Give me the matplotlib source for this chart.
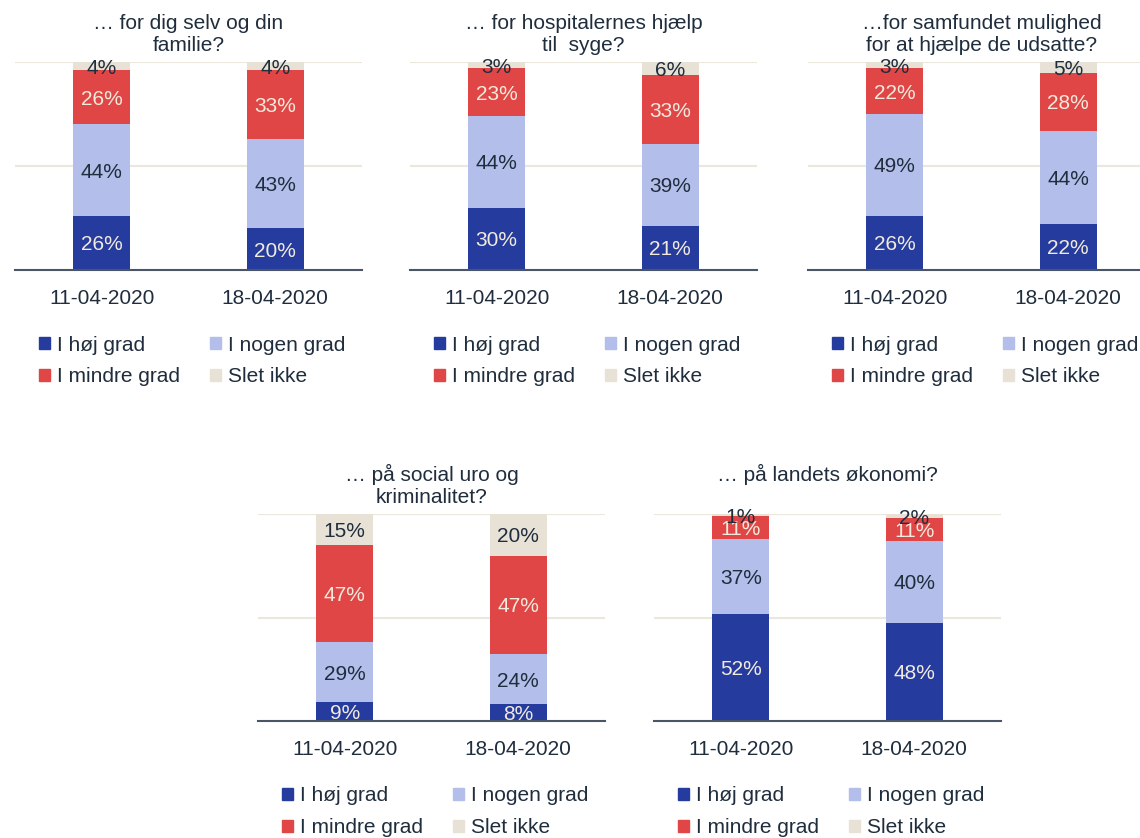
import matplotlib.pyplot as plt
from matplotlib.patches import Patch
import numpy as np

plt.rcParams.update({
    "font.family": ["Liberation Sans", "DejaVu Sans"], "font.size": 15,
})

DARK_BLUE = "#253C9E"; LIGHT_BLUE = "#B3BEEA"; RED = "#E04646"; BEIGE = "#E8E2D6"
TEXT = "#1F2D3D"; LIGHT_TEXT = "#F2EBDD"; GRID = "#ECE7DC"; AXIS = "#4A5568"

dates = ["11-04-2020", "18-04-2020"]
series = ["I høj grad", "I nogen grad", "I mindre grad", "Slet ikke"]
colors = [DARK_BLUE, LIGHT_BLUE, RED, BEIGE]
label_colors = [LIGHT_TEXT, TEXT, LIGHT_TEXT, TEXT]

titles = [
    "… for dig selv og din\nfamilie?",
    "… for hospitalernes hjælp\ntil  syge?",
    "…for samfundet mulighed\nfor at hjælpe de udsatte?",
    "… på social uro og\nkriminalitet?",
    "… på landets økonomi?\n ",
]
# values per panel (one pair per panel: 11-04, 18-04)
hoej = [[26, 20], [30, 21], [26, 22], [9, 8], [52, 48]]
nogen = [[44, 43], [44, 39], [49, 44], [29, 24], [37, 40]]
mindre = [[26, 33], [23, 33], [22, 28], [47, 47], [11, 11]]
slet = [[4, 4], [3, 6], [3, 5], [15, 20], [1, 2]]

fig = plt.figure(figsize=(11.4, 8.38), dpi=100)
W, H = 1140, 838
# (left px, top px, bottom px)
boxes = [(15, 62, 270), (410, 62, 270), (808, 62, 270),
         (258, 514, 721), (654, 514, 721)]
aw = 347

for i, (left, top, bottom) in enumerate(boxes):
    ax = fig.add_axes([left / W, 1 - bottom / H, aw / W, (bottom - top) / H])
    vals = np.array([hoej[i], nogen[i], mindre[i], slet[i]], dtype=float)
    share = vals / vals.sum(axis=0) * 100  # 100% stacked
    x = np.arange(len(dates))
    base = np.zeros(len(dates))
    for k in range(4):
        ax.bar(x, share[k], bottom=base, width=0.33, color=colors[k], zorder=2)
        for j in range(len(dates)):
            ax.text(x[j], base[j] + share[k][j] / 2, f"{vals[k][j]:.0f}%",
                    ha="center", va="center_baseline", color=label_colors[k],
                    fontsize=15, zorder=3)
        base += share[k]
    ax.set_xlim(-0.5, 1.5)
    ax.set_ylim(0, 100)
    ax.set_yticks([50, 100])
    ax.yaxis.grid(True, color=GRID, lw=1.5, zorder=0)
    ax.tick_params(axis="y", left=False, labelleft=False)
    ax.tick_params(axis="x", length=0, pad=14, labelcolor=TEXT, labelsize=15)
    ax.set_xticks(x)
    ax.set_xticklabels(dates)
    for s in ["top", "right", "left"]:
        ax.spines[s].set_visible(False)
    ax.spines["bottom"].set_color(AXIS)
    ax.spines["bottom"].set_linewidth(1.5)
    ax.spines["bottom"].set_zorder(4)
    ax.set_title(titles[i], color=TEXT, fontsize=15, pad=8, linespacing=1.2)

    handles = [Patch(color=colors[k], label=series[k]) for k in [0, 2, 1, 3]]
    ax.legend(handles=handles, ncol=2, loc="upper left",
              bbox_to_anchor=(0.045, -0.275), frameon=False,
              handlelength=0.55, handleheight=0.55, handletextpad=0.3,
              columnspacing=1.45, labelspacing=0.62, fontsize=15,
              labelcolor=TEXT, borderaxespad=0)

fig.savefig("out.png", dpi=100)
